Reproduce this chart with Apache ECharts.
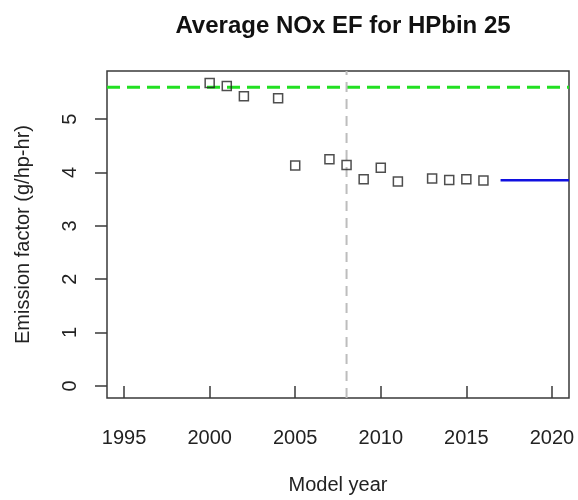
<!DOCTYPE html>
<html>
<head>
<meta charset="utf-8">
<script src="https://cdn.jsdelivr.net/npm/echarts@6/dist/echarts.min.js"></script>
<style>
  html, body { margin: 0; padding: 0; background: #fff; }
  #chart { width: 578px; height: 500px; }
</style>
</head>
<body>
<div id="chart"></div>
<script>
// Average NOx emission factor by model year, HP bin 25
const modelYears = [2000, 2001, 2002, 2004, 2005, 2007, 2008, 2009, 2010, 2011, 2013, 2014, 2015, 2016];
const noxEF = [5.68, 5.62, 5.43, 5.39, 4.13, 4.25, 4.14, 3.875, 4.09, 3.83, 3.89, 3.86, 3.875, 3.85];

// Reference levels
const baselineEF = 5.6;          // green dashed horizontal
const breakYear = 2008;          // grey dashed vertical
const projectionStart = 2017;    // blue projected level
const projectionEnd = 2021;
const projectionEF = 3.855;

// Axis ticks
const xTicks = [1995, 2000, 2005, 2010, 2015, 2020];
const yTicks = [0, 1, 2, 3, 4, 5];

const xMin = 1994, xMax = 2021;
const yMin = -0.227, yMax = 5.903;

const font = 'Liberation Sans, Arial, sans-serif';
const axisColor = '#3a3a3a';

const chart = echarts.init(document.getElementById('chart'), null, { renderer: 'canvas' });

chart.setOption({
  animation: false,
  backgroundColor: '#ffffff',
  title: {
    text: 'Average NOx EF for HPbin 25',
    left: 338,
    textAlign: 'center',
    top: 9,
    textStyle: { fontFamily: font, fontSize: 24, fontWeight: 'bold', color: '#111' }
  },
  grid: {
    left: 107, right: 9, top: 71, bottom: 102,
    show: true, borderColor: axisColor, borderWidth: 1.5, backgroundColor: 'transparent'
  },
  xAxis: {
    type: 'value',
    min: xMin, max: xMax,
    name: 'Model year',
    nameLocation: 'middle',
    nameGap: 77,
    nameTextStyle: { fontFamily: font, fontSize: 20, color: '#222' },
    axisLine: { show: false },
    splitLine: { show: false },
    axisTick: {
      show: true, length: 12, inside: false,
      customValues: xTicks,
      lineStyle: { color: axisColor, width: 1.5 }
    },
    axisLabel: {
      customValues: xTicks,
      margin: 30,
      fontFamily: font, fontSize: 20, color: '#222',
      formatter: v => String(v)
    }
  },
  yAxis: {
    type: 'value',
    min: yMin, max: yMax,
    name: 'Emission factor (g/hp-hr)',
    nameLocation: 'middle',
    nameGap: 74,
    nameTextStyle: { fontFamily: font, fontSize: 20, color: '#222' },
    axisLine: { show: false },
    splitLine: { show: false },
    axisTick: {
      show: true, length: 12, inside: false,
      customValues: yTicks,
      lineStyle: { color: axisColor, width: 1.5 }
    },
    axisLabel: {
      customValues: yTicks,
      rotate: 90,
      margin: 27,
      fontFamily: font, fontSize: 20, color: '#222',
      formatter: v => String(v)
    }
  },
  series: [
    {
      name: 'baseline',
      type: 'line',
      data: [[xMin, baselineEF], [xMax, baselineEF]],
      symbol: 'none',
      silent: true,
      lineStyle: { color: '#22e022', width: 3, type: [13, 7] },
      z: 1
    },
    {
      name: 'break',
      type: 'line',
      data: [[breakYear, yMin], [breakYear, yMax]],
      symbol: 'none',
      silent: true,
      lineStyle: { color: '#bdbdbd', width: 2, type: [10, 7] },
      z: 1
    },
    {
      name: 'projection',
      type: 'line',
      data: [[projectionStart, projectionEF], [projectionEnd, projectionEF]],
      symbol: 'none',
      silent: true,
      lineStyle: { color: '#1010e0', width: 2.5 },
      z: 2
    },
    {
      name: 'Average NOx EF',
      type: 'scatter',
      data: modelYears.map((y, i) => [y, noxEF[i]]),
      symbol: 'rect',
      symbolSize: 9,
      itemStyle: { color: 'transparent', borderColor: '#222', borderWidth: 1.5 },
      z: 3
    }
  ]
});
</script>
</body>
</html>
